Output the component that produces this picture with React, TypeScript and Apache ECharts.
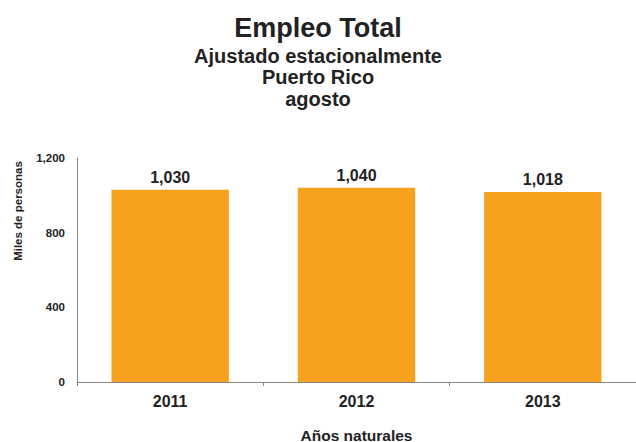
import React, { useEffect, useRef } from "react";
import * as echarts from "echarts";

const categories = ["2011", "2012", "2013"];
const values = [1030, 1040, 1018];
const yTicks = [0, 400, 800, 1200];

const FONT = "'Liberation Sans', Arial, Helvetica, sans-serif";

export default function App() {
  const ref = useRef<HTMLDivElement>(null);
  useEffect(() => {
    if (!ref.current) return;
    const chart = echarts.init(ref.current, null, { renderer: "svg" });
    chart.setOption({
      animation: false,
      backgroundColor: "#ffffff",
      textStyle: { fontFamily: FONT },
      title: [
        { text: "Empleo Total", left: "center", top: 9, textStyle: { fontSize: 27, fontWeight: "bold", color: "#222", fontFamily: FONT } },
        { text: "Ajustado estacionalmente", left: "center", top: 41, textStyle: { fontSize: 20, fontWeight: "bold", color: "#222", fontFamily: FONT } },
        { text: "Puerto Rico", left: "center", top: 62, textStyle: { fontSize: 20, fontWeight: "bold", color: "#222", fontFamily: FONT } },
        { text: "agosto", left: "center", top: 84, textStyle: { fontSize: 20, fontWeight: "bold", color: "#222", fontFamily: FONT } },
      ],
      grid: { left: 77, right: 0, top: 158, bottom: 60, containLabel: false, outerBoundsMode: "none" },
      xAxis: {
        type: "category",
        data: categories,
        axisLine: { show: true, lineStyle: { color: "#888", width: 1 } },
        axisTick: { show: true, length: 4, lineStyle: { color: "#888" } },
        axisLabel: { fontSize: 16, fontWeight: "bold", color: "#222", margin: 11, fontFamily: FONT },
        name: "Años naturales",
        nameLocation: "middle",
        nameGap: 45,
        nameTextStyle: { fontSize: 15.5, fontWeight: "bold", color: "#222", fontFamily: FONT },
      },
      yAxis: {
        type: "value",
        min: 0,
        max: 1200,
        interval: 400,
        splitLine: { show: false },
        axisLine: { show: true, lineStyle: { color: "#888", width: 1 } },
        axisTick: { show: false },
        axisLabel: {
          fontSize: 11.5,
          fontWeight: "bold",
          color: "#222",
          margin: 12,
          fontFamily: FONT,
          formatter: (v: number) => (yTicks.includes(v) ? v.toLocaleString("en-US") : ""),
        },
      },
      graphic: [
        {
          type: "text",
          x: 18,
          y: 211,
          rotation: Math.PI / 2,
          style: {
            text: "Miles de personas",
            fontSize: 11.5,
            fontWeight: "bold",
            fill: "#222",
            fontFamily: FONT,
            align: "center",
            verticalAlign: "middle",
          },
        },
      ],
      series: [
        {
          type: "bar",
          data: values,
          barWidth: "63%",
          itemStyle: { color: "#F6A21F" },
          label: {
            show: true,
            position: "top",
            distance: 4,
            fontSize: 16,
            fontWeight: "bold",
            color: "#222",
            fontFamily: FONT,
            formatter: (p: any) => Number(p.value).toLocaleString("en-US"),
          },
        },
      ],
    });
    return () => chart.dispose();
  }, []);
  return <div ref={ref} style={{ width: 636, height: 442, position: "absolute", left: 0, top: 0 }} />;
}
